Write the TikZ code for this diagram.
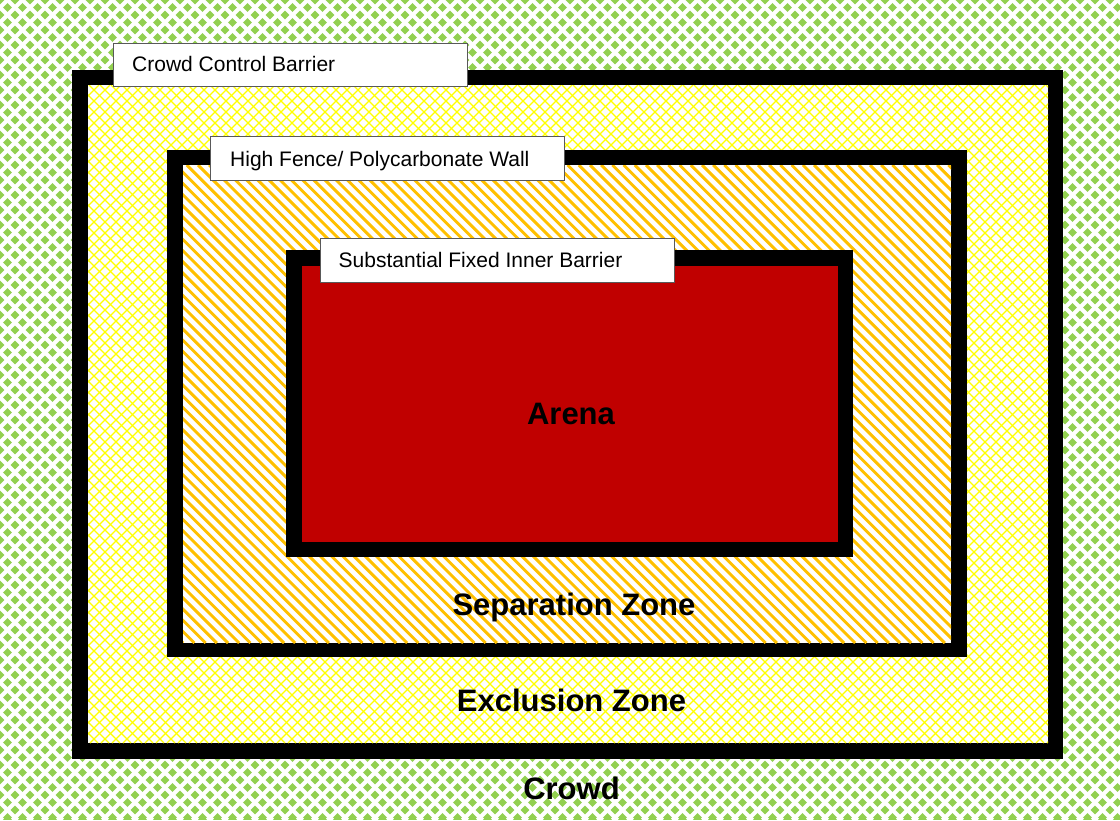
\documentclass[tikz,border=0pt]{standalone}
\usepackage{fontspec}
\setmainfont{Liberation Sans}
\definecolor{crowdgreen}{HTML}{92D050}
\definecolor{seporange}{HTML}{FFC000}
\definecolor{exyellow}{HTML}{FFFF00}
\definecolor{arenared}{HTML}{C00000}
\begin{document}
\begin{tikzpicture}[x=1pt,y=-1pt,
  labelbox/.style={draw=black!65, line width=1.2pt, fill=white, inner sep=0pt, anchor=north west},
  labeltext/.style={anchor=base west, inner sep=0pt, font=\fontsize{21}{25}\selectfont},
  zonetext/.style={anchor=base, inner sep=0pt, font=\fontsize{31}{36}\selectfont\bfseries},
  gridline/.style={white, line width=4pt},
  hatchline/.style={exyellow, line width=1.1pt},
  stripeline/.style={seporange, line width=2.9pt}]
\useasboundingbox (0,0) rectangle (1120,820);
% Crowd area: green diamonds
\fill[crowdgreen] (0,0) rectangle (1120,820);
\begin{scope}
  \clip (0,0) rectangle (1120,820);
  \foreach \c in {-7.5,7.5,...,1955} \draw[gridline] (\c,0) -- (\c-820,820);
  \foreach \c in {-832.5,-817.5,...,1130} \draw[gridline] (\c,0) -- (\c+820,820);
\end{scope}
% Crowd control barrier + exclusion zone
\fill[black] (72,70) rectangle (1063,759);
\fill[white] (88,85) rectangle (1048,743);
\begin{scope}
  \clip (88,85) rectangle (1048,743);
  \foreach \c in {77,88,...,1720} \draw[hatchline] (\c,85) -- (\c-658,743);
  \foreach \c in {-582,-571,...,1060} \draw[hatchline] (\c,85) -- (\c+658,743);
\end{scope}
% High fence + separation zone
\fill[black] (167,150) rectangle (967,657);
\fill[white] (183,165) rectangle (951,643);
\begin{scope}
  \clip (183,165) rectangle (951,643);
  \foreach \c in {-306,-294.8,...,965} \draw[stripeline] (\c,165) -- (\c+478,643);
\end{scope}
% Inner barrier + arena
\fill[black] (286,250) rectangle (853,557);
\fill[arenared] (302,266) rectangle (838,542);
% Label boxes
\node[labelbox, minimum width=354pt, minimum height=43.5pt] (ccbbox) at (112.5,42.5) {};
\node[labeltext] (ccb) at (132,71.7) {Crowd Control Barrier};
\node[labelbox, minimum width=354pt, minimum height=43.5pt] (hfbox) at (209.5,136) {};
\node[labeltext] (hf) at (230,166) {High Fence/ Polycarbonate Wall};
\node[labelbox, minimum width=354pt, minimum height=44pt] (sfbox) at (319.5,238) {};
\node[labeltext] (sf) at (338.5,267.3) {Substantial Fixed Inner Barrier};
% Zone texts
\node[zonetext] (arena) at (571,424) {Arena};
\node[zonetext] (sep) at (574,615) {Separation Zone};
\node[zonetext] (excl) at (571.5,711) {Exclusion Zone};
\node[zonetext] (crowd) at (571.5,799) {Crowd};
\end{tikzpicture}
\end{document}
